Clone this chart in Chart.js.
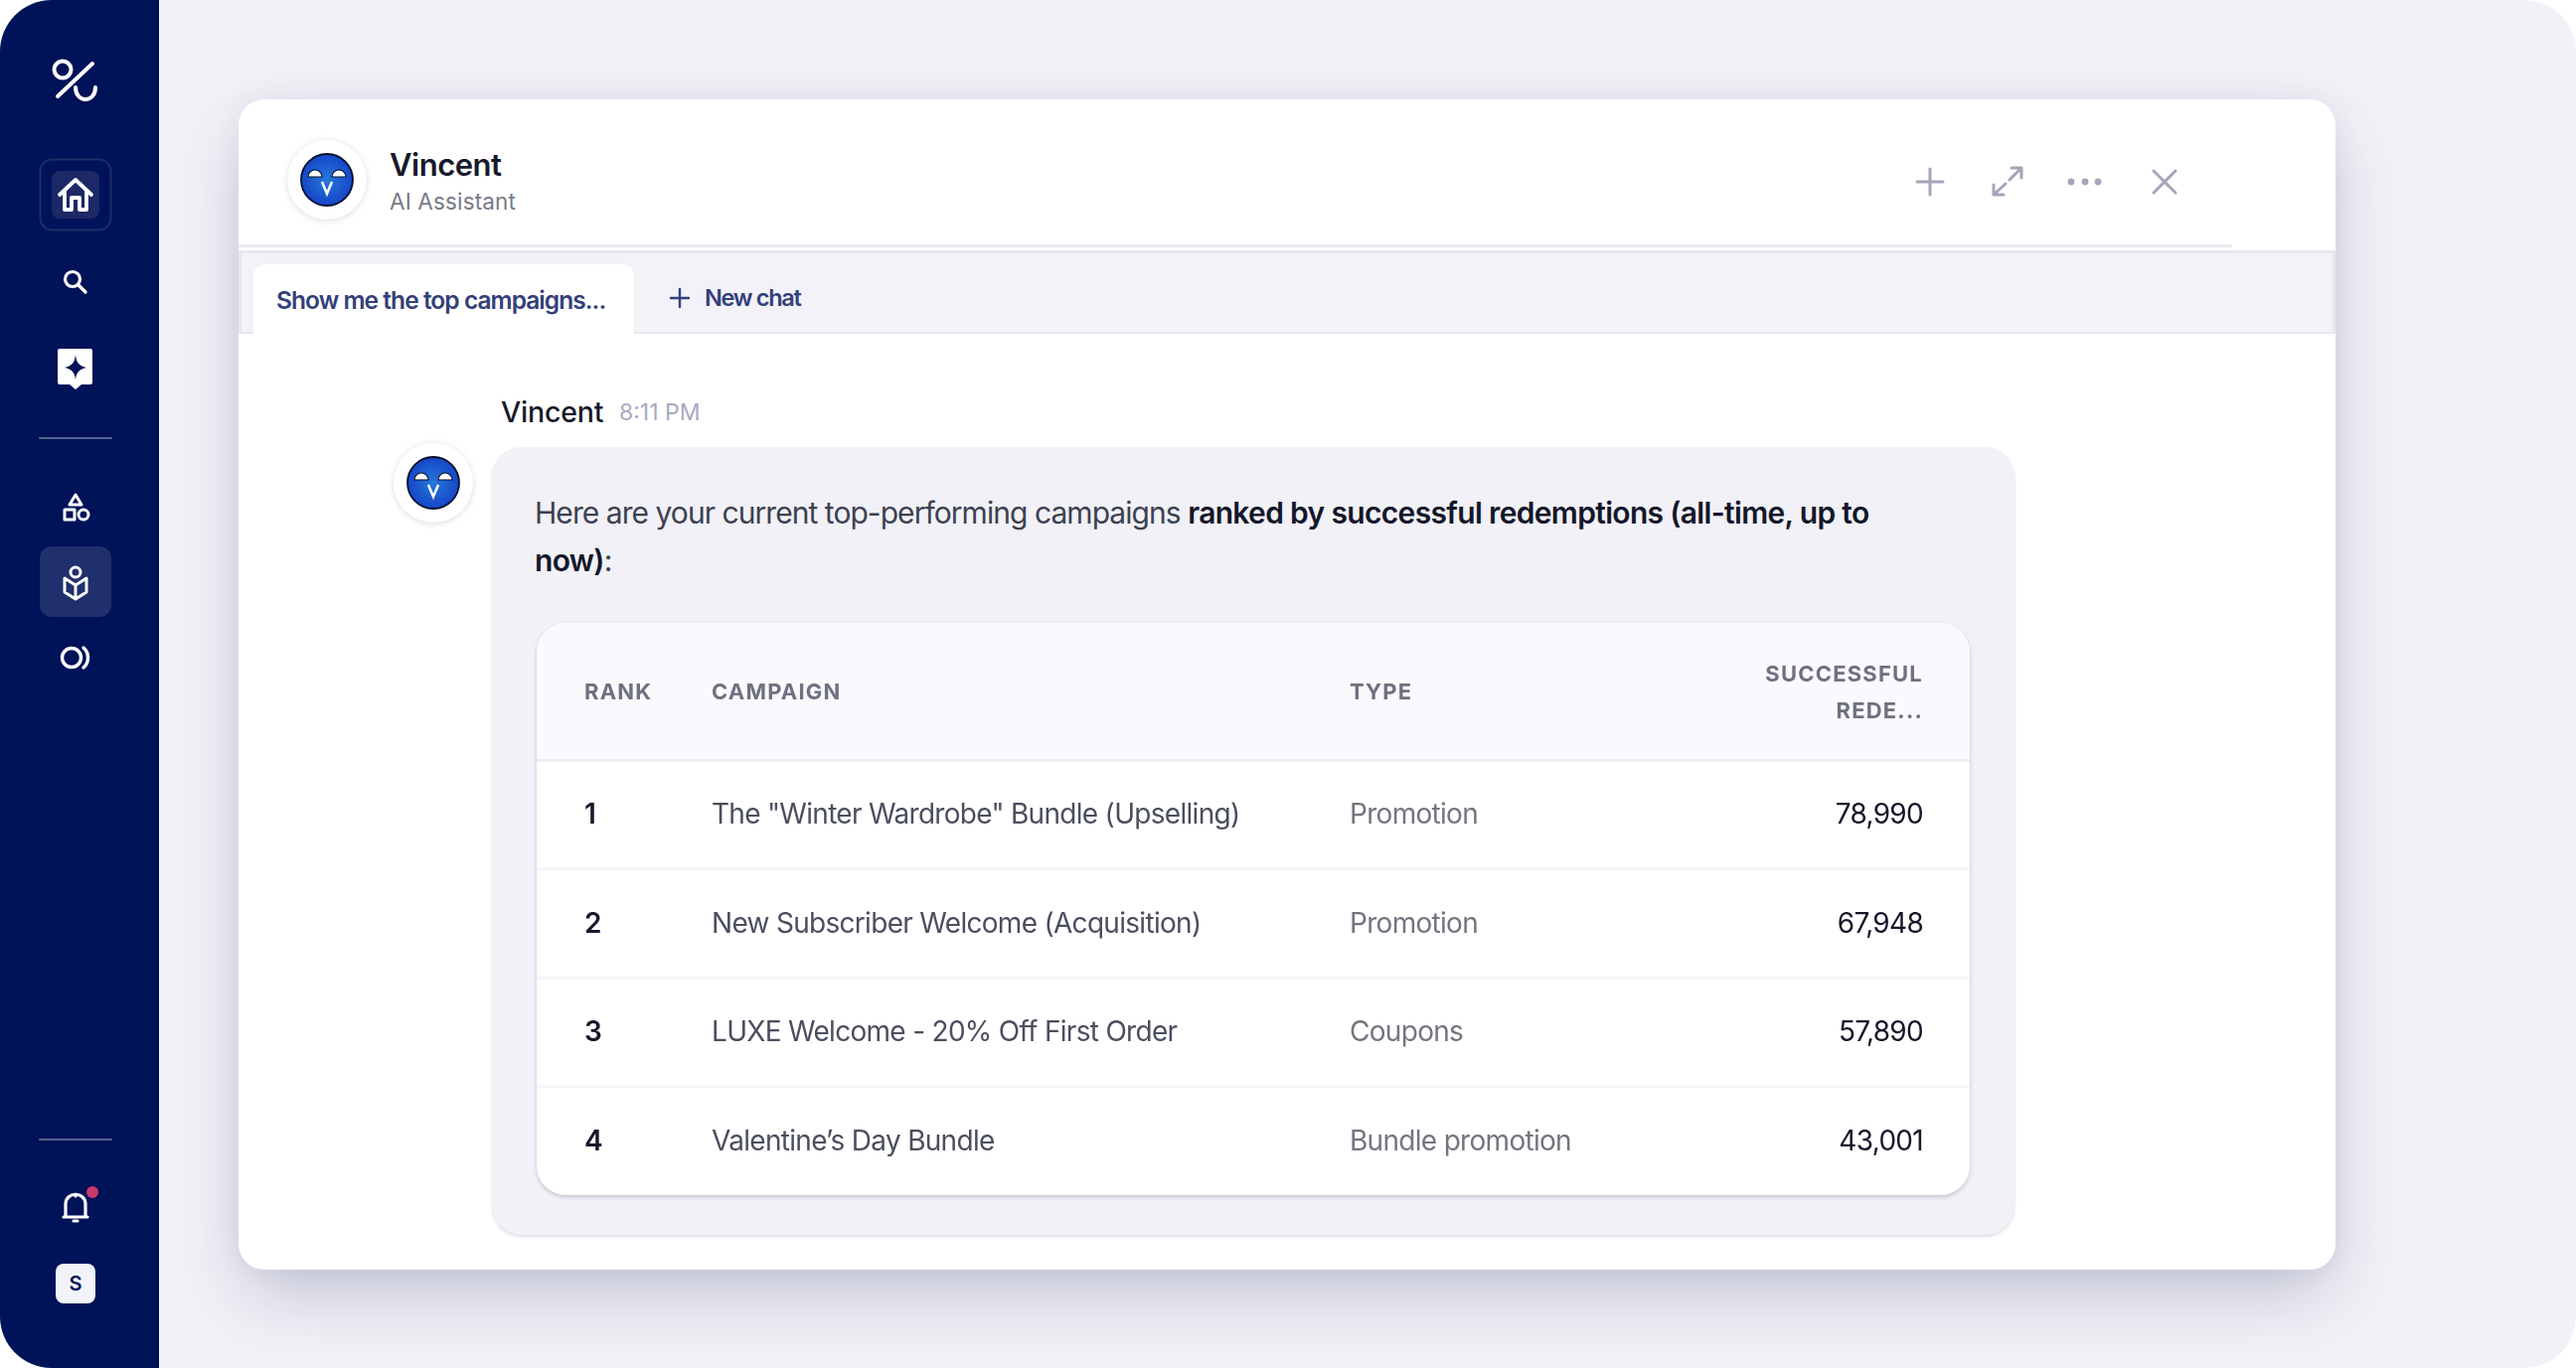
<!DOCTYPE html>
<html>
<head>
<meta charset="utf-8">
<title>Vincent</title>
<script src="https://cdn.jsdelivr.net/npm/chart.js@4/dist/chart.umd.js"></script>
<style>
html,body{margin:0;padding:0;background:#fff;width:2592px;height:1377px;overflow:hidden;font-family:Inter,sans-serif}
.abs,.abs *{box-sizing:border-box}
.abs{position:absolute}
#app{left:0;top:0;width:2592px;height:1377px;background:#f1f2f7;border-radius:52px;overflow:hidden}
#side{left:0;top:0;width:160px;height:1377px;background:#001258}
.card{left:240px;top:100px;width:2110px;height:1178px;background:#fff;border-radius:26px;box-shadow:0 30px 70px -8px rgba(60,60,110,.27),0 0 26px rgba(70,70,120,.07)}
.txt{white-space:nowrap;line-height:1}
#bubble{left:495px;top:450px;width:1532px;height:793px;background:#f1f1f7;border-radius:30px;box-shadow:0 2px 3px rgba(90,90,130,.2)}
#tableBox{left:540px;top:627px;width:1442px;height:576px;background:#fff;border-radius:30px;overflow:hidden}
#tableHead{left:0;top:0;width:1442px;height:138px;background:#f9f9fe}
#tableShadow{left:540px;top:627px;width:1442px;height:576px;border-radius:30px;box-shadow:0 2px 4px rgba(90,90,130,.3)}
canvas{position:absolute;left:0;top:0}
.halo{filter:drop-shadow(0 1px 3px rgba(90,90,130,.22))}
</style>
</head>
<body>
<div id="app" class="abs">
  <div id="side" class="abs">
    <svg class="abs" style="left:0;top:0" width="160" height="1377" fill="none" stroke="#fff" stroke-width="4" stroke-linecap="round" stroke-linejoin="round">
      <!-- logo -->
      <circle cx="63" cy="70" r="8.5"/><path d="M58 97 93 64"/><path d="M76 88c0 16 20 16 20 0"/>
      <!-- home -->
      <rect x="40.5" y="160.5" width="71" height="71" rx="12" stroke="#1e2c68" stroke-width="2"/>
      <rect x="52" y="172" width="48" height="48" rx="8" fill="#1c2966" stroke="none"/>
      <path d="M60 196 76 181 92 196M65 192V211H72V199H80V211H87V192" stroke-width="3.8"/>
      <!-- search -->
      <circle cx="73" cy="281" r="7.5" stroke-width="3.2"/><path d="M79 287 86 294" stroke-width="3.2"/>
      <!-- sparkle badge -->
      <path d="M60 351H91A2 2 0 0 1 93 353V385A2 2 0 0 1 91 387H82L76 392 70 387H60A2 2 0 0 1 58 385V353A2 2 0 0 1 60 351Z" fill="#fff" stroke="none"/>
      <path d="M76 357C77 365 79 368 87 370 79 372 77 375 76 382 75 375 73 372 65 370 73 368 75 365 76 357Z" fill="#001258" stroke="none"/>
      <path d="M40 441H112" stroke="#55648f" stroke-width="2"/>
      <!-- shapes -->
      <path d="M76 498 82 508H70Z" stroke-width="3"/><rect x="65" y="513" width="10" height="10" stroke-width="3"/><circle cx="84" cy="518" r="5" stroke-width="3"/>
      <!-- book -->
      <rect x="40" y="550" width="72" height="71" rx="12" fill="#20306c" stroke="none"/>
      <circle cx="76" cy="576" r="5" stroke-width="3"/><path d="M65 582 76 589 87 582V596L76 603 65 596ZM76 589V603" stroke-width="3"/>
      <!-- circles -->
      <circle cx="72" cy="662" r="9.500" stroke-width="3.4"/><path d="M84 652C90 657 90 667 84 672" stroke-width="3.4"/>
      <path d="M40 1147H112" stroke="#55648f" stroke-width="2"/>
      <!-- bell -->
      <path d="M66 1224V1212C66 1199 86 1199 86 1212V1224M64 1225H88M76 1202V1204M74 1229H78" stroke-width="3.2"/>
      <circle cx="93" cy="1200" r="6" fill="#c8396b" stroke="none"/>
    </svg>
    <div class="abs txt" style="left:56px;top:1272px;width:40px;height:40px;border-radius:8px;background:#f2f3f9;color:#001258;font-weight:600;font-size:20px;text-align:center;line-height:40px">S</div>
  </div>

  <div class="abs card"></div>

  <div class="abs" style="left:240px;top:246px;width:2006px;height:3px;background:#ececf3"></div>
  <div class="abs" style="left:240px;top:252px;width:2110px;height:84px;background:#e7e8f1"></div>
  <div class="abs" style="left:243px;top:255px;width:2104px;height:79px;background:#f2f2f8"></div>
  <div class="abs" style="left:255px;top:266px;width:383px;height:70px;background:#fff;border-radius:12px 12px 0 0"></div>
  <div class="abs txt" style="left:278px;top:290px;font-size:24.500px;font-weight:600;letter-spacing:-.95px;color:#343f7a">Show me the top campaigns...</div>
  <svg class="abs" style="left:672px;top:288px" width="24" height="24" stroke="#343f7a" stroke-width="2.400" stroke-linecap="round"><path d="M12 3V21M3 12H21"/></svg>
  <div class="abs txt" style="left:709px;top:288px;font-size:23.500px;font-weight:600;letter-spacing:-1.300px;color:#343f7a">New chat</div>

  <!-- header avatar + names -->
  <svg class="abs halo" style="left:279px;top:131px" width="100" height="100">
    <defs><radialGradient id="g"><stop offset="0" stop-color="#2678d8"/><stop offset="1" stop-color="#1646c8"/></radialGradient></defs>
    <circle cx="50" cy="50" r="40" fill="#fff"/>
    <g id="face"><circle cx="50" cy="50" r="26" fill="url(#g)" stroke="#06102e" stroke-width="1.800"/>
    <path d="M31 47A7 7 0 0 1 45 47ZM55 47A7 7 0 0 1 69 47Z" fill="#fff" stroke="#06102e" stroke-width="1.200"/>
    <path d="M45 52 50 64 55 52" fill="none" stroke="#fff" stroke-width="2.500"/></g>
  </svg>
  <div class="abs txt" style="left:392px;top:150px;font-size:31px;font-weight:600;letter-spacing:-.5px;color:#171a2c">Vincent</div>
  <div class="abs txt" style="left:392px;top:192px;font-size:22.500px;font-weight:400;letter-spacing:.15px;color:#787a88">AI Assistant</div>

  <!-- header buttons -->
  <svg class="abs" style="left:1900px;top:150px" width="300" height="70" fill="none" stroke="#a4a4ba" stroke-width="3" stroke-linecap="round" stroke-linejoin="round">
    <path d="M42 20V46M29 33H55"/>
    <path d="M106 46 118 35M106 36V46H116M134 19 122 31M124 19H134V29"/>
    <circle cx="184" cy="33" r="3.400" fill="#a4a4ba" stroke="none"/><circle cx="198" cy="33" r="3.400" fill="#a4a4ba" stroke="none"/><circle cx="211" cy="33" r="3.400" fill="#a4a4ba" stroke="none"/>
    <path d="M267 22 289 44M289 22 267 44"/>
  </svg>

  <!-- message -->
  <div class="abs txt" style="left:504px;top:401px;font-size:28.500px;font-weight:500;letter-spacing:-.2px;color:#171a2c">Vincent</div>
  <div class="abs txt" style="left:623px;top:404px;font-size:23px;color:#a9a9c2">8:11 PM</div>
  <svg class="abs halo" style="left:386px;top:436px" width="100" height="100">
    <circle cx="50" cy="50" r="40" fill="#fff"/>
    <use href="#face"/>
  </svg>
  <div id="bubble" class="abs"></div>
  <div class="abs txt" style="left:538px;top:501px;font-size:30px;letter-spacing:-.95px;color:#3c4150">Here are your current top-performing campaigns <b style="font-weight:600;letter-spacing:-.67px;color:#14172a">ranked by successful redemptions (all-time, up to</b></div>
  <div class="abs txt" style="left:538px;top:549px;font-size:30px;color:#3c4150"><b style="font-weight:600;letter-spacing:-.67px;color:#14172a">now)</b>:</div>

  <div id="tableShadow" class="abs"></div>
  <div id="tableBox" class="abs">
    <div id="tableHead" class="abs"></div>
    <canvas id="table" width="1442" height="576"></canvas>
  </div>
</div>

<script>
// table content
var columns = ['RANK', 'CAMPAIGN', 'TYPE', ['SUCCESSFUL', 'REDE...']];
var ranks = ['1', '2', '3', '4'];
var campaigns = [
    'The "Winter Wardrobe" Bundle (Upselling)',
    'New Subscriber Welcome (Acquisition)',
    'LUXE Welcome - 20% Off First Order',
    'Valentine\u2019s Day Bundle'
];
var types = ['Promotion', 'Promotion', 'Coupons', 'Bundle promotion'];
var redemptions = [78990, 67948, 57890, 43001];

// where each column starts on the x scale, the last one is right aligned
var columnAnchors = [48, 176, 818, 1395];
var columnStyles = [
    {font: '600 28px Inter', color: '#171a2c', align: 'left'},
    {font: '400 28px Inter', color: '#4b4e5e', align: 'left'},
    {font: '400 28px Inter', color: '#73757f', align: 'left'},
    {font: '400 28px Inter', color: '#14172a', align: 'right'}
];

function cellText(col, row) {
    if (col == 0) return ranks[row];
    if (col == 1) return campaigns[row];
    if (col == 2) return types[row];
    return redemptions[row].toLocaleString('en-US');
}

var datasets = columnAnchors.map(function (anchor) {
    return {
        data: ranks.map(function (r) { return {x: anchor, y: r}; }),
        pointRadius: 0
    };
});

// draws the header and the cells on the points of each column
var cellLabels = {
    id: 'cellLabels',
    afterDatasetsDraw: function (chart) {
        var ctx = chart.ctx;
        var x = chart.scales.x;
        ctx.save();
        ctx.textBaseline = 'middle';
        ctx.font = '700 22px Inter';
        ctx.letterSpacing = '1.2px';
        ctx.fillStyle = '#6f7180';
        columns.forEach(function (col, i) {
            ctx.textAlign = columnStyles[i].align;
            var lines = [].concat(col);
            lines.forEach(function (line, n) {
                var y = lines.length == 1 ? 70 : 52 + n * 37;
                ctx.fillText(line, x.getPixelForValue(columnAnchors[i]), y);
            });
        });
        ctx.letterSpacing = '-0.7px';
        chart.data.datasets.forEach(function (ds, i) {
            chart.getDatasetMeta(i).data.forEach(function (pt, r) {
                ctx.font = columnStyles[i].font;
                ctx.fillStyle = columnStyles[i].color;
                ctx.textAlign = columnStyles[i].align;
                ctx.fillText(cellText(i, r), pt.x, pt.y + 1);
            });
        });
        ctx.restore();
    }
};

new Chart(document.getElementById('table').getContext('2d'), {
    type: 'scatter',
    data: {datasets: datasets},
    plugins: [cellLabels],
    options: {
        responsive: false,
        animation: false,
        layout: {padding: {top: 138}},
        plugins: {legend: {display: false}, tooltip: {enabled: false}},
        scales: {
            x: {type: 'linear', min: 0, max: 1442, display: false},
            y: {
                type: 'category',
                labels: ranks,
                offset: true,
                afterFit: function (scale) { scale.width = 0; },
                border: {display: false},
                ticks: {display: false},
                grid: {
                    offset: true,
                    drawTicks: false,
                    lineWidth: 3,
                    color: function (c) {
                        if (c.index == 0) return '#ebebf2';
                        return c.index == ranks.length ? 'transparent' : '#f6f6fa';
                    }
                }
            }
        }
    }
});
</script>
</body>
</html>
